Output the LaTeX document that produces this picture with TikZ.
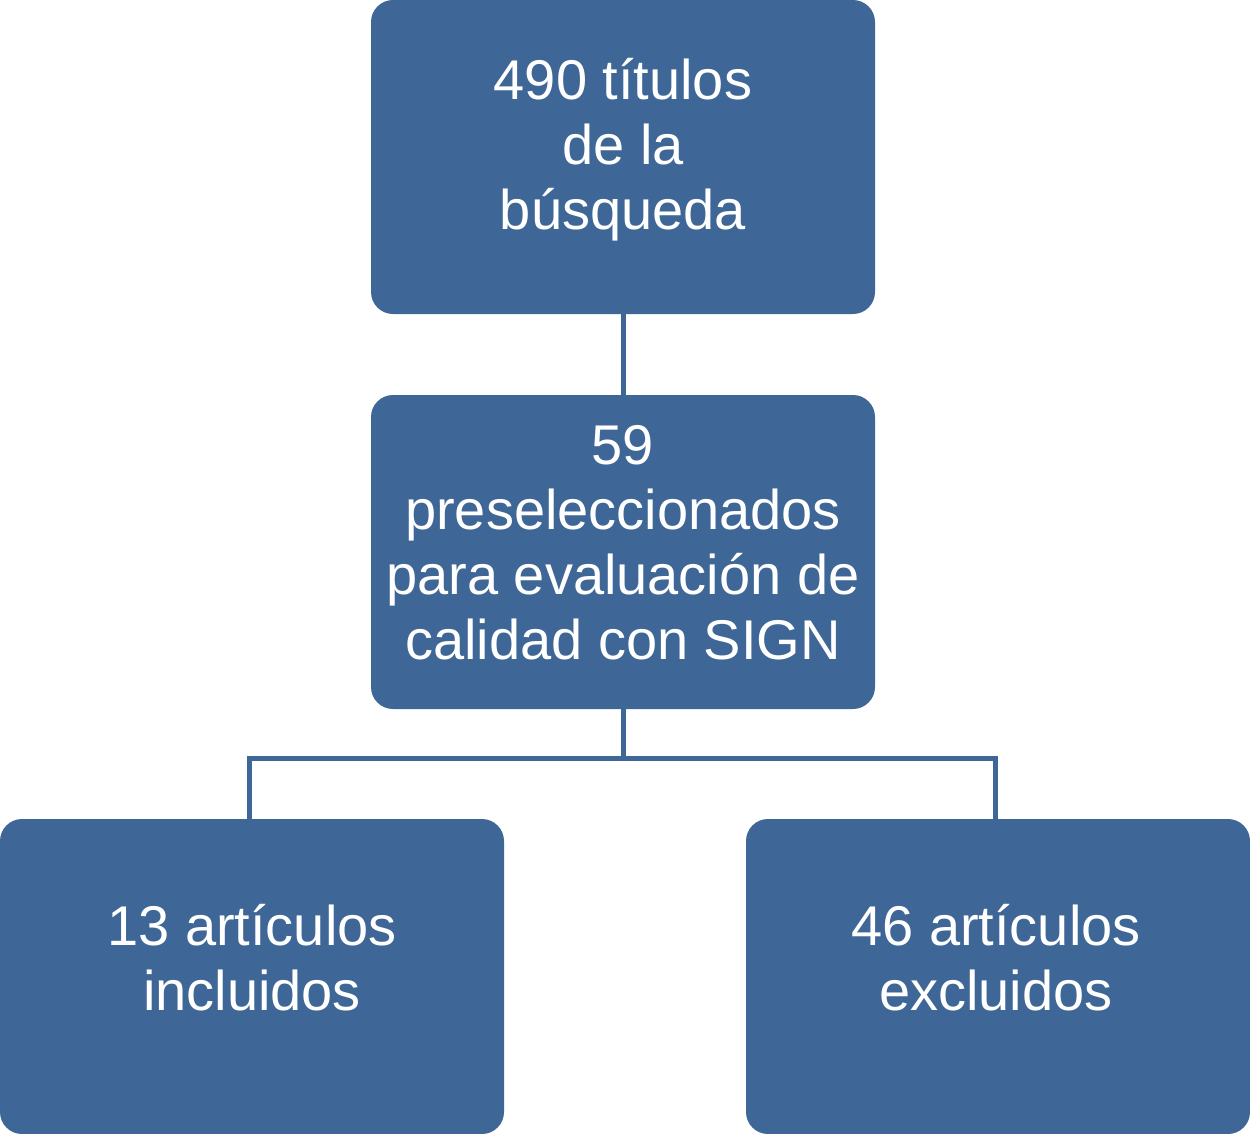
\documentclass[tikz,border=0pt]{standalone}
\usepackage{fontspec}
\setmainfont{Liberation Sans}
\definecolor{boxblue}{HTML}{3E6696}
\begin{document}
\begin{tikzpicture}[x=1bp,y=-1bp,
  box/.style={fill=boxblue, rounded corners=22bp, text=white, align=center,
    font=\fontsize{56bp}{65bp}\selectfont},
  conn/.style={draw=boxblue, line width=5bp}]
\useasboundingbox (0,0) rectangle (1250,1134);
\path[box] (371,0) rectangle (875,314);
\path[box] (371,395) rectangle (875,709);
\path[box] (0,819) rectangle (504,1134);
\path[box] (746,819) rectangle (1250,1134);
\node[box, fill=none, inner sep=0] (a) at (623,150) {490 títulos\\de la\\búsqueda};
\node[box, fill=none, inner sep=0] (b) at (623,543) {59\\preseleccionados\\para evaluación de\\calidad con SIGN};
\node[box, fill=none, inner sep=0] (c) at (252,958) {13 artículos\\incluidos};
\node[box, fill=none, inner sep=0] (d) at (996,958) {46 artículos\\excluidos};
\coordinate (atop) at (623,314);
\coordinate (bt) at (623,395);
\coordinate (bb) at (623,709);
\coordinate (cl) at (249.5,819);
\coordinate (dr) at (995,819);
\draw[conn] (atop) -- (bt);
\draw[conn] (bb) -- (623,758.5) -| (cl);
\draw[conn] (623,758.5) -| (dr);
\end{tikzpicture}
\end{document}
